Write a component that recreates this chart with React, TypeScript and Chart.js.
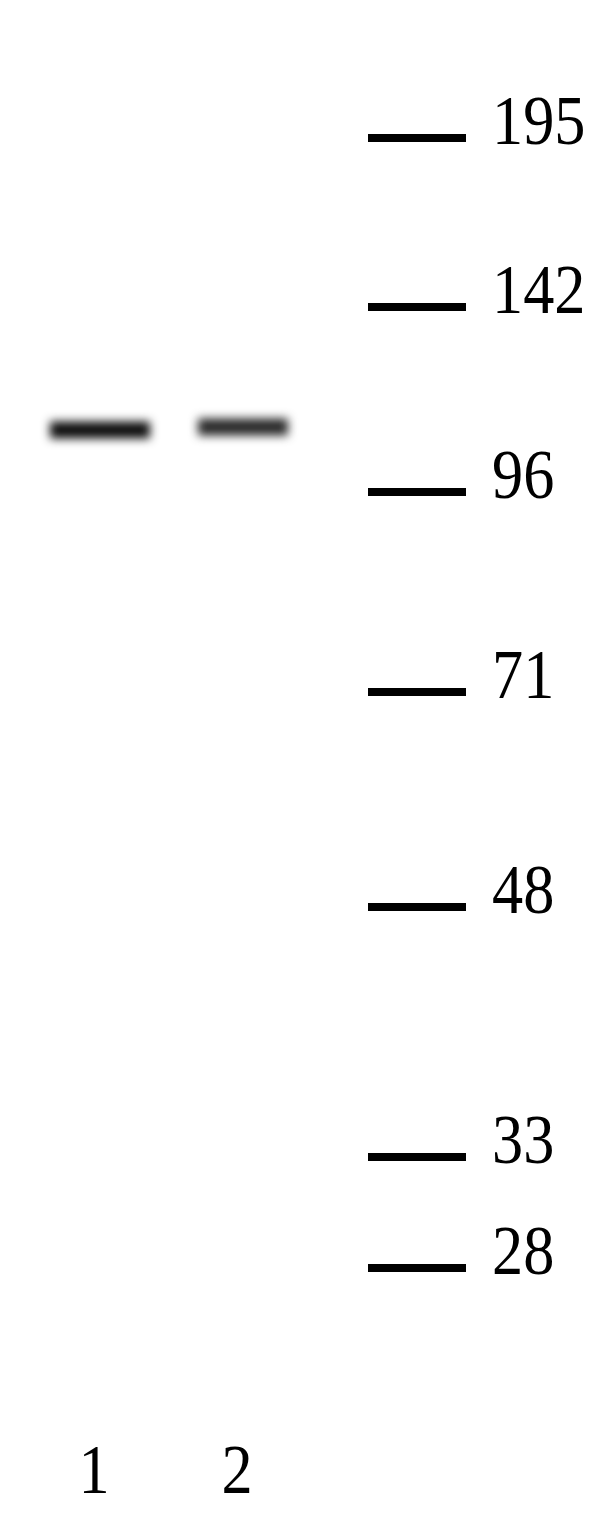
import { useEffect, useRef } from "react";
import { Chart, registerables } from "chart.js";

Chart.register(...registerables);

// marker ladder (kDa) and how far each one ran down the gel
const markerLabels = ["195", "142", "96", "71", "48", "33", "28"];
const markerMigration = [138, 307, 492, 692, 907, 1157, 1268];

// sample lanes
const laneLabels = ["1", "2"];
const laneX = [100, 243];
const bandMigration = [430, 427];
const bandColors = ["#0e0e0e", "#2a2a2a"];
const bandHalfWidth = [50, 45];

const LADDER_X = 417;
const FONT = '70px "Liberation Serif", "Times New Roman", serif';
const SQUEEZE = 0.89; // the label type is a bit narrow

const gelText = {
  id: "gelText",
  beforeDatasetDraw(chart: any, args: any) {
    if (args.index === 1) {
      chart.ctx.save();
      chart.ctx.filter = "blur(5px)";
    }
  },
  afterDatasetDraw(chart: any, args: any) {
    if (args.index === 1) chart.ctx.restore();
  },
  afterDatasetsDraw(chart: any) {
    const { ctx, scales, chartArea } = chart;
    const text = (s: string, x: number, y: number) => {
      ctx.save();
      ctx.translate(x, y);
      ctx.scale(SQUEEZE, 1);
      ctx.fillText(s, 0, 0);
      ctx.restore();
    };
    ctx.save();
    ctx.fillStyle = "#000";
    ctx.font = FONT;
    ctx.textBaseline = "alphabetic";
    ctx.textAlign = "left";
    markerLabels.forEach((lbl, i) => {
      const y = scales.y.getPixelForValue(markerMigration[i]);
      text(lbl, scales.x.getPixelForValue(LADDER_X) + 75, y + 6);
    });
    ctx.textAlign = "center";
    laneLabels.forEach((lbl, i) => {
      text(lbl, scales.x.getPixelForValue(laneX[i]) - 6, chartArea.bottom - 27);
    });
    ctx.restore();
  },
};

export default function App() {
  const canvasRef = useRef<HTMLCanvasElement | null>(null);

  useEffect(() => {
    if (!canvasRef.current) return;
    const ctx = canvasRef.current.getContext("2d");
    if (!ctx) return;

    const chart = new Chart(ctx, {
      type: "scatter",
      data: {
        datasets: [
          {
            label: "marker",
            data: markerMigration.map((m) => ({ x: LADDER_X, y: m })),
            pointStyle: "line",
            pointRadius: 49,
            borderWidth: 8,
            borderColor: "#000",
          },
          {
            label: "band",
            data: bandMigration.map((m, i) => ({ x: laneX[i], y: m })),
            pointStyle: "line",
            pointRadius: bandHalfWidth,
            borderWidth: 17,
            borderColor: bandColors,
          },
        ],
      },
      options: {
        animation: false,
        responsive: false,
        devicePixelRatio: 1,
        layout: { padding: 0, autoPadding: false },
        plugins: { legend: { display: false }, tooltip: { enabled: false } },
        scales: {
          x: { type: "linear", min: 0, max: 615, display: false },
          y: { type: "linear", min: 0, max: 1520, reverse: true, display: false },
        },
      },
      plugins: [gelText],
    });

    return () => chart.destroy();
  }, []);

  return (
    <div style={{ position: "fixed", left: 0, top: 0, width: 615, height: 1520, background: "#fff" }}>
      <canvas ref={canvasRef} width={615} height={1520} />
    </div>
  );
}
